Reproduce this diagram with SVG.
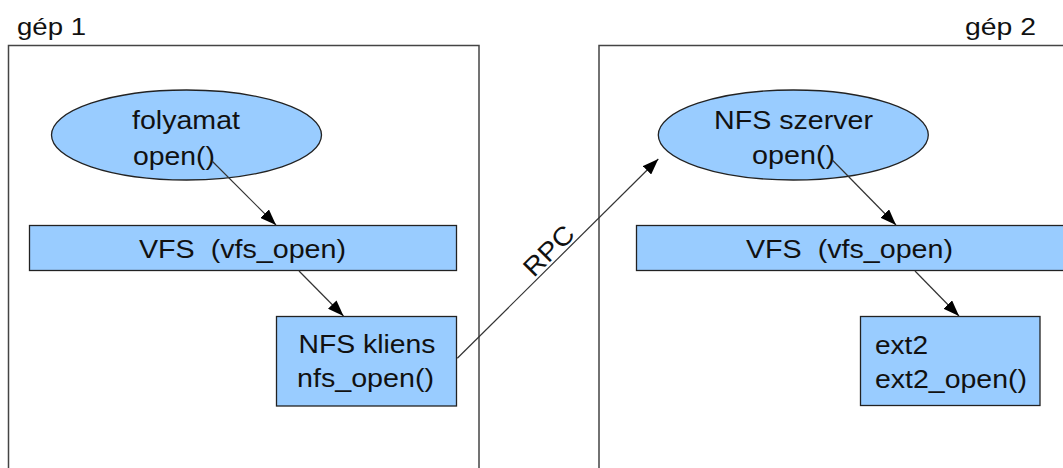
<svg xmlns="http://www.w3.org/2000/svg" width="1063" height="468" viewBox="0 0 1063 468">
<style>
.frame{fill:none;stroke:#444;stroke-width:1.5}
.node{fill:#99ccff;stroke:#222;stroke-width:1.3}
.t{font-family:"Liberation Sans",Arial,sans-serif;font-size:26px;fill:#111}
.h{font-family:"Liberation Sans",Arial,sans-serif;font-size:24px;fill:#111}
.conn{fill:none;stroke:#333;stroke-width:1.2}
</style>
<defs>
<marker id="ah" viewBox="0 0 16 12" refX="16" refY="6" markerWidth="16" markerHeight="12" markerUnits="userSpaceOnUse" orient="auto">
<path d="M0,0 L16,6 L0,12 z" fill="#000"/>
</marker>
</defs>
<rect width="1063" height="468" fill="#fff"/>
<g id="gep1">
<rect class="frame" x="8.5" y="45.5" width="470.5" height="440"/>
<text class="h" x="17" y="35" textLength="69" lengthAdjust="spacingAndGlyphs">gép 1</text>
</g>
<g id="gep2">
<rect class="frame" x="599" y="45.5" width="480" height="440"/>
<text class="h" x="965" y="35" textLength="71" lengthAdjust="spacingAndGlyphs">gép 2</text>
</g>
<g id="folyamat">
<ellipse class="node" cx="186.5" cy="135" rx="135" ry="45"/>
<text class="t" x="132" y="129" textLength="108" lengthAdjust="spacingAndGlyphs">folyamat</text>
<text class="t" x="133" y="165" textLength="82" lengthAdjust="spacingAndGlyphs">open()</text>
</g>
<g id="vfs1">
<rect class="node" x="29.5" y="225.5" width="427" height="45"/>
<text class="t" x="139" y="258" textLength="207" lengthAdjust="spacingAndGlyphs">VFS&#160; (vfs_open)</text>
</g>
<g id="nfskliens">
<rect class="node" x="276.5" y="316.5" width="180" height="89.5"/>
<text class="t" x="298.5" y="353" textLength="137" lengthAdjust="spacingAndGlyphs">NFS kliens</text>
<text class="t" x="297" y="387" textLength="137" lengthAdjust="spacingAndGlyphs">nfs_open()</text>
</g>
<g id="nfsszerver">
<ellipse class="node" cx="793.3" cy="135" rx="135" ry="45"/>
<text class="t" x="714" y="129" textLength="159" lengthAdjust="spacingAndGlyphs">NFS szerver</text>
<text class="t" x="752" y="164" textLength="83" lengthAdjust="spacingAndGlyphs">open()</text>
</g>
<g id="vfs2">
<rect class="node" x="636.5" y="225.5" width="440" height="45"/>
<text class="t" x="746" y="258" textLength="207" lengthAdjust="spacingAndGlyphs">VFS&#160; (vfs_open)</text>
</g>
<g id="ext2">
<rect class="node" x="860.5" y="316.5" width="179.5" height="89"/>
<text class="t" x="875" y="354" textLength="53" lengthAdjust="spacingAndGlyphs">ext2</text>
<text class="t" x="875" y="388" textLength="152" lengthAdjust="spacingAndGlyphs">ext2_open()</text>
</g>
<g id="connectors">
<line class="conn" x1="212" y1="161" x2="276" y2="225" marker-end="url(#ah)"/>
<line class="conn" x1="299" y1="271" x2="343.5" y2="316" marker-end="url(#ah)"/>
<line class="conn" x1="457.3" y1="358.3" x2="658.3" y2="159" marker-end="url(#ah)"/>
<line class="conn" x1="832.3" y1="160" x2="896" y2="225" marker-end="url(#ah)"/>
<line class="conn" x1="915" y1="271" x2="959" y2="316" marker-end="url(#ah)"/>
<text class="t" x="555" y="257" text-anchor="middle" transform="rotate(-45 555 257)" textLength="60" lengthAdjust="spacingAndGlyphs">RPC</text>
</g>
</svg>
